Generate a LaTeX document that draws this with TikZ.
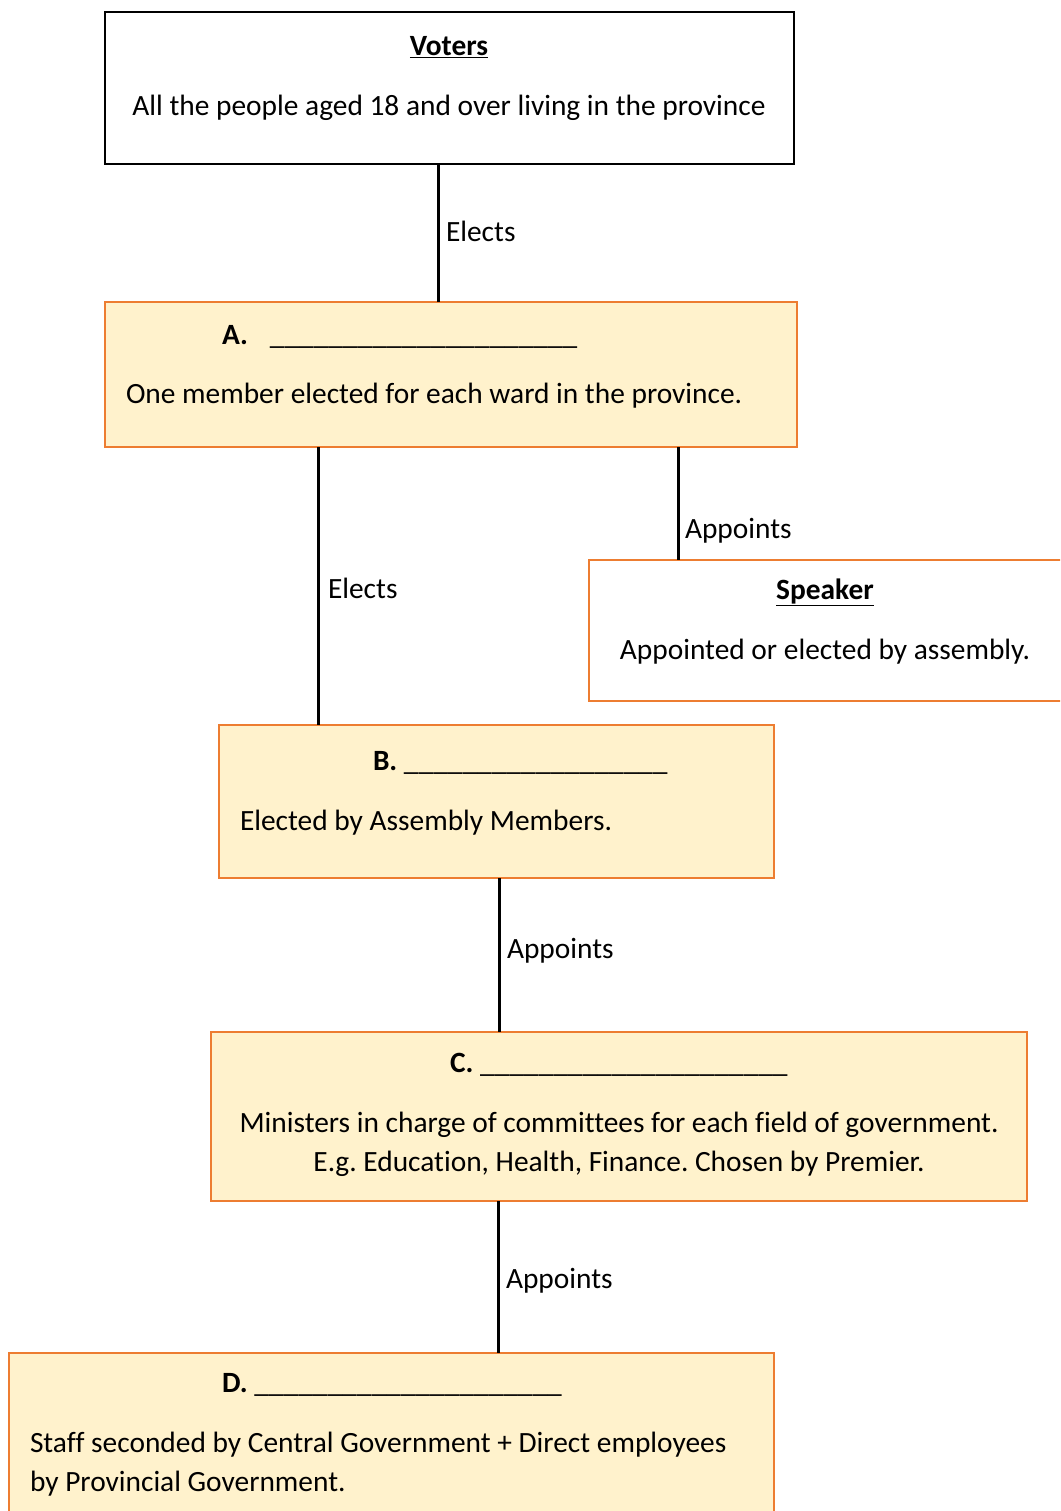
\documentclass[tikz,border=0pt]{standalone}
\usepackage{fontspec}
\setmainfont{Carlito}[Ligatures=NoCommon]
\definecolor{boxorange}{HTML}{ED7D31}
\definecolor{boxcream}{HTML}{FFF2CC}
\frenchspacing
\begin{document}
\frenchspacing
\begin{tikzpicture}[x=1pt,y=-1pt,
  every node/.style={font=\fontsize{29.4}{39}\selectfont, inner sep=0pt, outer sep=0pt},
  frame/.style={draw, line width=1.8pt, anchor=north west},
  plainbox/.style={frame, draw=black, fill=white},
  orangebox/.style={frame, draw=boxorange, fill=boxcream},
  speakerbox/.style={frame, draw=boxorange, fill=white},
  conn/.style={draw=black, line width=3pt},
  ctxt/.style={anchor=base},
  ltxt/.style={anchor=base west},
]
\useasboundingbox (0,0) rectangle (1060,1511);
\clip (0,0) rectangle (1060,1511);

% boxes
\node[plainbox, minimum width=689pt, minimum height=152pt] (voters) at (105,12) {};
\node[orangebox, minimum width=692pt, minimum height=145pt] (A) at (105,302) {};
\node[speakerbox, minimum width=480pt, minimum height=141pt] (speaker) at (589,560) {};
\node[orangebox, minimum width=555pt, minimum height=153pt] (B) at (219,725) {};
\node[orangebox, minimum width=816pt, minimum height=169pt] (C) at (211,1032) {};
\node[orangebox, minimum width=765pt, minimum height=180pt] (D) at (9,1353) {};

% connector columns
\coordinate (c1) at (438,0);
\coordinate (c2) at (318,0);
\coordinate (c3) at (678,0);
\coordinate (c4) at (499,0);
\coordinate (c5) at (498,0);

\draw[conn] (voters.south -| c1) -- (A.north -| c1);
\draw[conn] (A.south -| c2) -- (B.north -| c2);
\draw[conn] (A.south -| c3) -- (speaker.north -| c3);
\draw[conn] (B.south -| c4) -- (C.north -| c4);
\draw[conn] (C.south -| c5) -- (D.north -| c5);

% connector labels
\node[ltxt] (l1) at (446,242) {Elects};
\node[ltxt] (l2) at (328,598) {Elects};
\node[ltxt] (l3) at (685,538) {Appoints};
\node[ltxt] (l4) at (507,958) {Appoints};
\node[ltxt] (l5) at (506,1288) {Appoints};

% Voters
\node[ctxt] (vt) at (449,56) {\underline{\textbf{Voters}}};
\node[ctxt] (vd) at (449,116) {All the people aged 18 and over living in the province};

% A
\node[ltxt] (at) at (222,344) {\textbf{A.}\hspace{22pt}\_\_\_\_\_\_\_\_\_\_\_\_\_\_\_\_\_\_\_\_\_};
\node[ltxt] (ad) at (126,403) {One member elected for each ward in the province.};

% Speaker
\node[ctxt] (st) at (825,599) {\underline{\textbf{Speaker}}};
\node[ctxt] (sd) at (825,659) {Appointed or elected by assembly.};

% B
\node[ltxt] (bt) at (373,770) {\textbf{B.} \_\_\_\_\_\_\_\_\_\_\_\_\_\_\_\_\_\_};
\node[ltxt] (bd) at (240,830) {Elected by Assembly Members.};

% C
\node[ltxt] (ct) at (450,1072) {\textbf{C.} \_\_\_\_\_\_\_\_\_\_\_\_\_\_\_\_\_\_\_\_\_};
\node[ctxt] (cd1) at (619,1132) {Ministers in charge of committees for each field of government.};
\node[ctxt] (cd2) at (619,1171) {E.g. Education, Health, Finance. Chosen by Premier.};

% D
\node[ltxt] (dt) at (222,1392) {\textbf{D.} \_\_\_\_\_\_\_\_\_\_\_\_\_\_\_\_\_\_\_\_\_};
\node[ltxt] (dd1) at (30,1452) {Staff seconded by Central Government + Direct employees};
\node[ltxt] (dd2) at (30,1491) {by Provincial Government.};
\end{tikzpicture}
\end{document}
